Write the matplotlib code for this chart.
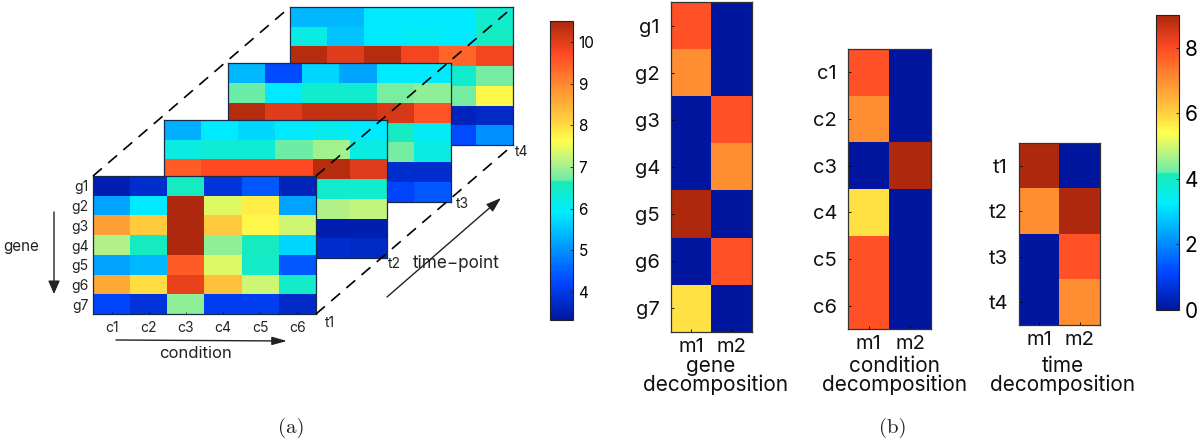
import numpy as np
import matplotlib
matplotlib.use("Agg")
from matplotlib import pyplot as plt
from matplotlib.cm import ScalarMappable
from matplotlib.colors import LinearSegmentedColormap, Normalize

W, H = 1200, 442
nan = np.nan

genes = ["g1", "g2", "g3", "g4", "g5", "g6", "g7"]
conds = ["c1", "c2", "c3", "c4", "c5", "c6"]
times = ["t1", "t2", "t3", "t4"]
modes = ["m1", "m2"]

# values, nan = hidden behind the layer in front
slice_t1 = [[3.5, 3.8, 6.55, 3.9, 4.4, 3.6],
            [5.2, 5.9, 10.5, 7.4, 7.8, 5.2],
            [8.7, 8.2, 10.5, 8.2, 7.7, 7.3],
            [7.1, 6.55, 10.5, 6.9, 6.55, 5.7],
            [5.2, 5.4, 9.5, 7.4, 6.45, 4.4],
            [8.6, 8.0, 9.9, 8.3, 7.3, 6.45],
            [4.2, 3.9, 6.9, 4.1, 4.1, 3.7]]
slice_t2 = [[5.3, 5.9, 5.7, 5.9, 6.1, 5.9],
            [6.2, 6.3, 6.3, 6.7, 7.0, 6.2],
            [9.5, 9.7, 9.7, 9.7, 10.4, 10.0],
            [nan, nan, nan, nan, 6.4, 6.4],
            [nan, nan, nan, nan, 7.1, 7.2],
            [nan, nan, nan, nan, 3.5, 3.5],
            [nan, nan, nan, nan, 3.8, 3.7]]
slice_t3 = [[5.4, 4.3, 5.7, 5.2, 5.9, 5.9],
            [6.7, 5.9, 6.4, 6.4, 6.8, 6.9],
            [10.4, 10.0, 10.3, 10.3, 10.1, 9.6],
            [nan, nan, nan, nan, 6.5, 6.0],
            [nan, nan, nan, nan, 6.75, 6.2],
            [nan, nan, nan, nan, 3.8, 3.8],
            [nan, nan, nan, nan, 4.2, 4.4]]
slice_t4 = [[5.4, 5.4, 5.9, 5.9, 5.9, 6.4],
            [6.2, 5.5, 5.9, 6.0, 5.9, 6.5],
            [10.4, 10.0, 10.4, 9.8, 9.4, 9.8],
            [nan, nan, nan, nan, 6.4, 6.75],
            [nan, nan, nan, nan, 6.75, 7.7],
            [nan, nan, nan, nan, 3.6, 3.7],
            [nan, nan, nan, nan, 4.3, 5.0]]

gene_m = [[7.9, 0], [7.0, 0], [0, 7.9], [0, 7.0], [9, 0], [0, 7.9], [5.8, 0]]
cond_m = [[7.9, 0], [7.0, 0], [0, 9], [5.8, 0], [7.9, 0], [7.9, 0]]
time_m = [[9, 0], [7.0, 9], [0, 7.9], [0, 7.0]]

left_range = (3.33, 10.5)
right_range = (0, 9)
left_ticks = [4, 5, 6, 7, 8, 9, 10]
right_ticks = [0, 2, 4, 6, 8]

# jet-like map with the kink near 0.465 that the original has
cmap = LinearSegmentedColormap.from_list("kinked_jet", [
    (0.0, (0.0, 0.09, 0.62)),
    (0.125, (0.0, 0.27, 1.0)),
    (0.25, (0.0, 0.62, 1.0)),
    (0.36, (0.0, 0.93, 1.0)),
    (0.46, (0.1, 0.92, 0.72)),
    (0.47, (0.42, 0.93, 0.66)),
    (0.53, (0.72, 0.95, 0.52)),
    (0.6, (1.0, 1.0, 0.3)),
    (0.667, (1.0, 0.82, 0.25)),
    (0.78, (1.0, 0.56, 0.2)),
    (0.89, (1.0, 0.29, 0.14)),
    (1.0, (0.68, 0.16, 0.05)),
])

plt.rcParams["font.family"] = ["Inter", "DejaVu Sans"]
fig = plt.figure(figsize=(W / 100, H / 100), dpi=100)


def px_axes(x0, y0, x1, y1, **kw):
    # pixel box measured from the top left of the picture
    return fig.add_axes([x0 / W, 1 - y1 / H, (x1 - x0) / W, (y1 - y0) / H], **kw)


def heat(box, values, vrange, edge="#1a2a4a"):
    ax = px_axes(*box)
    ax.imshow(np.array(values, dtype=float), cmap=cmap, vmin=vrange[0], vmax=vrange[1],
              aspect="auto", interpolation="nearest")
    ax.set_xticks([])
    ax.set_yticks([])
    for s in ax.spines.values():
        s.set_color(edge)
        s.set_linewidth(0.9)
    return ax


def colorbar(box, vrange, ticks, size):
    cax = px_axes(*box)
    sm = ScalarMappable(norm=Normalize(*vrange), cmap=cmap)
    cb = fig.colorbar(sm, cax=cax)
    cb.set_ticks(ticks)
    cb.ax.tick_params(direction="in", length=2.5, width=0.6, labelsize=size, pad=4, color="#222222")
    cb.outline.set_linewidth(0.8)
    cb.outline.set_edgecolor("#222222")
    return cb


# stacked slices, back to front
heat((290, 7, 513, 145), slice_t4, left_range)
heat((228, 63, 451, 202), slice_t3, left_range)
heat((164, 120, 387, 258), slice_t2, left_range)
ax1 = heat((93, 176, 316, 314), slice_t1, left_range)
ax1.set_yticks(range(len(genes)), genes, fontsize=10, color="#222222")
ax1.set_xticks(range(len(conds)), conds, fontsize=10, color="#222222")
ax1.tick_params(axis="y", direction="in", length=0, pad=3)
ax1.tick_params(axis="x", direction="in", length=1.5, width=0.5, pad=5)

colorbar((550, 21, 573, 320), left_range, left_ticks, 11)
colorbar((1156, 15, 1179, 310), right_range, right_ticks, 15)

for box, values, labels in [((671, 2, 752, 332), gene_m, genes),
                            ((848, 49, 931, 329), cond_m, conds),
                            ((1019, 143, 1100, 325), time_m, times)]:
    ax = heat(box, values, right_range, edge="#333333")
    ax.set_yticks(range(len(labels)), labels, fontsize=14.5, color="#111111")
    ax.set_xticks(range(2), modes, fontsize=14.5, color="#111111")
    ax.tick_params(direction="in", length=2, width=0.6, pad=4)
    ax.tick_params(axis="y", pad=8)

# overlay in pixel coordinates for dashes, arrows and captions
ov = fig.add_axes([0, 0, 1, 1], zorder=10)
ov.set_xlim(0, W)
ov.set_ylim(H, 0)
ov.axis("off")
ov.patch.set_alpha(0)

for x0, y0, x1, y1 in [(93, 176, 290, 7), (316, 176, 513, 7), (316, 314, 513, 145)]:
    ov.plot([x0, x1], [y0, y1], color="black", lw=1.2, dashes=(7, 5))

ov.annotate("", xy=(54, 294), xytext=(54, 212),
            arrowprops=dict(arrowstyle="-|>,head_width=0.35,head_length=0.8", color="#222222", lw=1.0, shrinkA=0, shrinkB=0))
ov.annotate("", xy=(287, 341), xytext=(116, 340),
            arrowprops=dict(arrowstyle="-|>,head_width=0.25,head_length=0.9", color="#222222", lw=1.0, shrinkA=0, shrinkB=0))
ov.annotate("", xy=(501, 198), xytext=(387, 297),
            arrowprops=dict(arrowstyle="-|>,head_width=0.3,head_length=0.9", color="#222222", lw=1.0, shrinkA=0, shrinkB=0))

for s, x, y in [("t1", 330, 323), ("t2", 394, 264), ("t3", 462, 204), ("t4", 522, 152)]:
    ov.text(x, y, s, fontsize=10, ha="center", va="center", color="#222222")
ov.text(21, 246, "gene", fontsize=11, ha="center", va="center", color="#222222")
ov.text(196, 354, "condition", fontsize=12, ha="center", va="center", color="#222222")
ov.text(456, 263, "time\u2212point", fontsize=12.3, ha="center", va="center", color="#222222")

for s, x in [("gene", 711), ("condition", 895), ("time", 1063)]:
    ov.text(x, 366, s, fontsize=15, ha="center", va="center", color="#111111")
for x in [716, 895, 1063]:
    ov.text(x, 385, "decomposition", fontsize=15, ha="center", va="center", color="#111111")

ov.text(291, 428, "(a)", fontsize=15, family="cmr10", ha="center", va="center", color="#222222")
ov.text(893, 428, "(b)", fontsize=15, family="cmr10", ha="center", va="center", color="#222222")

fig.savefig("out.png", dpi=100)
